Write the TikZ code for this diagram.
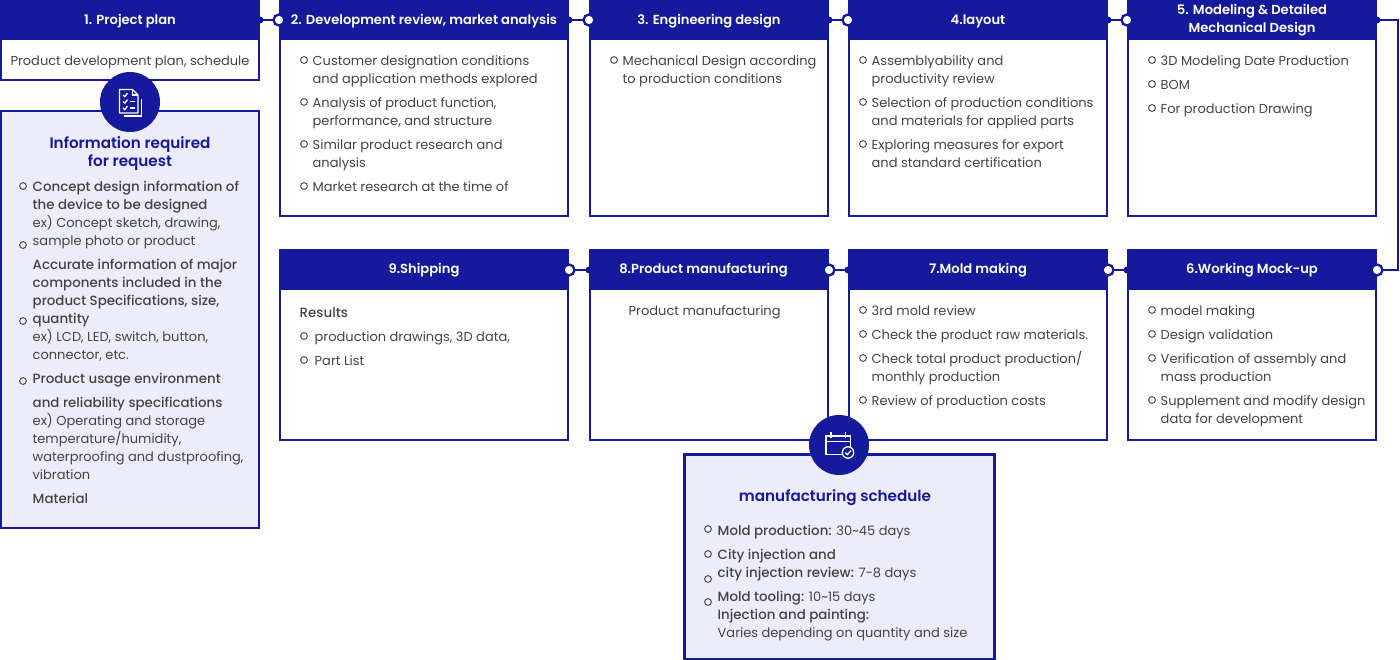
\documentclass[tikz,border=0pt]{standalone}
\usepackage{fontspec}
\setmainfont{Poppins}[BoldFont=Poppins Medium,BoldFeatures={Scale=1.03}]
\newfontface\headfont{Poppins SemiBold}
\definecolor{stepblue}{HTML}{15199C}
\definecolor{panelfill}{HTML}{ECECFB}
\definecolor{itemgray}{HTML}{444444}
\tikzset{
  stephead/.style={fill=stepblue, text=white, anchor=north west, minimum height=40pt, inner sep=0pt, outer sep=0pt, align=center, font=\headfont\fontsize{13.1}{18}\selectfont},
  lowtitle/.style={text height=10pt, text depth=1pt},
  head1/.style=lowtitle, head2/.style=lowtitle, head3/.style=lowtitle, head4/.style=lowtitle,
  stepbody/.style={draw=stepblue, line width=2.3pt, fill=white, anchor=north west, inner sep=0pt, outer sep=0pt},
  infopanel/.style={draw=stepblue, line width=2.3pt, fill=panelfill, anchor=north west, inner sep=0pt, outer sep=0pt},
  itemtext/.style={text=itemgray, anchor=north west, inner sep=0pt, align=left, font=\fontsize{13}{18}\selectfont},
  paneltitle/.style={text=stepblue, inner sep=0pt, align=center, font=\headfont\fontsize{15.2}{18}\selectfont},
  itemdot/.style={draw=itemgray, line width=0.9pt},
  linkline/.style={draw=stepblue, line width=2.3pt},
  linkdot/.style={circle, draw=stepblue, line width=2.3pt, fill=white, minimum size=11pt, inner sep=0pt},
  linktip/.style={circle, fill=stepblue, minimum size=7pt, inner sep=0pt},
  iconbadge/.style={circle, fill=stepblue, minimum size=60pt, inner sep=0pt},
  iconline/.style={draw=white, line width=1.3pt}
}
\newcommand{\firstline}{\rule{0pt}{14pt}}
\begin{document}
\begin{tikzpicture}[x=1pt,y=-1pt]
  \useasboundingbox (0,0) rectangle (1400,660);
  \foreach \name/\px/\py/\boxw/\boxb/\title in {
    1/0/0/260/81/{1. Project plan},
    2/279/0/290/217/{2. Development review, market analysis},
    3/589/0/240/217/{3. Engineering design},
    4/848/0/260/217/{4.layout},
    5/1127/0/250/217/{5. Modeling \& Detailed\\Mechanical Design},
    6/1127/250/250/441/{6.Working Mock-up},
    7/848/250/260/441/{7.Mold making},
    8/589/250/240/441/{8.Product manufacturing\hspace*{11pt}},
    9/279/250/290/441/{9.Shipping}} {
    \node (body\name) [stepbody, minimum width={\boxw*1pt-2.3pt}, minimum height={(\boxb-\py)*1pt-1.2pt}] at (\px+1.15,\py) {};
    \node (head\name) [stephead, head\name/.try, minimum width={\boxw*1pt}] at (\px,\py) {\title};
  }

  % links between the steps
  \foreach \from/\to in {1/2,2/3,3/4,4/5} {
    \draw [linkline] (head\from.east) -- (head\to.west);
    \node (tip\from) [linktip] at (head\from.east) {};
    \node (dot\to) [linkdot] at (head\to.west) {};
  }
  \foreach \from/\to in {6/7,7/8,8/9} {
    \draw [linkline] (head\from.west) -- (head\to.east);
    \node (tip\from) [linktip] at (head\from.west) {};
    \node (dot\to) [linkdot] at (head\to.east) {};
  }
  \coordinate (bendtop) at (1398,20);
  \coordinate (bendlow) at (1398,270);
  \draw [linkline] (head5.east) -- (bendtop) -- (bendlow) -- (head6.east);
  \node (tip5) [linktip] at (head5.east) {};
  \node (dot6) [linkdot] at (head6.east) {};

  % step texts
  \node (text1) [itemtext, anchor=center] at (130,62) {Product development plan, schedule};

  \node (text2a) [itemtext] at (312.5,51) {\firstline Customer designation conditions\\and application methods explored};
  \node (text2b) [itemtext] at (312.5,93) {\firstline Analysis of product function,\\performance, and structure};
  \node (text2c) [itemtext] at (312.5,135) {\firstline Similar product research and\\analysis};
  \node (text2d) [itemtext] at (312.5,177) {\firstline Market research at the time of};

  \node (text3a) [itemtext] at (622.5,51) {\firstline Mechanical Design according\\to production conditions};

  \node (text4a) [itemtext] at (871.5,51) {\firstline Assemblyability and\\productivity review};
  \node (text4b) [itemtext] at (871.5,93) {\firstline Selection of production conditions\\and materials for applied parts};
  \node (text4c) [itemtext] at (871.5,135) {\firstline Exploring measures for export\\and standard certification};

  \node (text5a) [itemtext] at (1160.5,51) {\firstline 3D Modeling Date Production};
  \node (text5b) [itemtext] at (1160.5,75) {\firstline BOM};
  \node (text5c) [itemtext] at (1160.5,99) {\firstline For production Drawing};

  \node (text6a) [itemtext] at (1160.5,301) {\firstline model making};
  \node (text6b) [itemtext] at (1160.5,325) {\firstline Design validation};
  \node (text6c) [itemtext] at (1160.5,349) {\firstline Verification of assembly and\\mass production};
  \node (text6d) [itemtext] at (1160.5,391) {\firstline Supplement and modify design\\data for development};

  \node (text7a) [itemtext] at (871.5,301) {\firstline 3rd mold review};
  \node (text7b) [itemtext] at (871.5,325) {\firstline Check the product raw materials.};
  \node (text7c) [itemtext] at (871.5,349) {\firstline Check total product production/\\monthly production};
  \node (text7d) [itemtext] at (871.5,391) {\firstline Review of production costs};

  \node (text8a) [itemtext] at (628.5,301) {\firstline Product manufacturing};

  \node (text9a) [itemtext] at (299.5,303) {\firstline\textbf{Results}};
  \node (text9b) [itemtext] at (314.5,327) {\firstline production drawings, 3D data,};
  \node (text9c) [itemtext] at (314.5,351) {\firstline Part List};

  % information panel
  \node (infobox) [infopanel, minimum width=257.7pt, minimum height=417pt] at (1.15,111) {};
  \node (infotitle) [paneltitle] at (130,154) {Information required\\for request};
  \node (info1) [itemtext] at (32.5,177) {\firstline\textbf{Concept design information of}\\\textbf{the device to be designed}\\ex) Concept sketch, drawing,\\sample photo or product};
  \node (info2) [itemtext] at (32.5,255) {\firstline\textbf{Accurate information of major}\\\textbf{components included in the}\\\textbf{product Specifications, size,}\\\textbf{quantity}\\ex) LCD, LED, switch, button,\\connector, etc.};
  \node (info3) [itemtext] at (32.5,369) {\firstline\textbf{Product usage environment}};
  \node (info4) [itemtext] at (32.5,393) {\firstline\textbf{and reliability specifications}\\ex) Operating and storage\\temperature/humidity,\\waterproofing and dustproofing,\\vibration};
  \node (info5) [itemtext] at (32.5,489) {\firstline\textbf{Material}};

  % schedule panel
  \node (schedbox) [infopanel, minimum width=310pt, minimum height=204.5pt] at (684.5,454.5) {};
  \node (schedtitle) [paneltitle] at (835,498) {manufacturing schedule};
  \node (sched1) [itemtext] at (717.5,521) {\firstline\textbf{Mold production:} 30\textasciitilde45 days};
  \node (sched2) [itemtext] at (717.5,545) {\firstline\textbf{City injection and}\\\textbf{city injection review:} 7-8 days};
  \node (sched3) [itemtext] at (717.5,587) {\firstline\textbf{Mold tooling:} 10\textasciitilde15 days\\\textbf{Injection and painting:}\\Varies depending on quantity and size};

  % list markers
  \foreach \bx/\by in {304/60,304/102,304/144,304/186,614/60,863/60,863/102,863/144,
    1152/60,1152/84,1152/108,304/336,304/360,863/310,863/334,863/358,863/400,
    1152/310,1152/334,1152/358,1152/400,
    23/186,23/245,23/321,23/381,708/529,708/554,708/579,708/602} {
    \draw [itemdot] (\bx,\by) circle (3.4pt);
  }

  % badges with their icons
  \node (infobadge) [iconbadge] at (130,102) {};
  \draw [iconline, line join=round] (119.5,89.5) -- (132.5,89.5) -- (138,95) -- (138,113) -- (119.5,113) -- cycle;
  \draw [iconline] (132.5,89.5) -- (132.5,95) -- (138,95);
  \draw [iconline] (141.5,99) -- (141.5,116) -- (123.5,116);
  \foreach \cy in {95,101.5,108} {
    \draw [iconline] (123,\cy) -- (124.8,\cy+1.6) -- (127.5,\cy-1.8);
  }
  \draw [iconline] (130,101.5) -- (135,101.5);
  \draw [iconline] (130,108) -- (135,108);

  \node (schedbadge) [iconbadge] at (839,445) {};
  \draw [iconline] (826,436) rectangle (850.5,454.5);
  \draw [iconline] (826,441.5) -- (850.5,441.5);
  \draw [iconline] (831,432) -- (831,438);
  \draw [iconline] (845.5,432) -- (845.5,438);
  \draw [iconline, fill=stepblue] (848,452.5) circle (5.7pt);
  \draw [iconline] (845.3,452.5) -- (847.3,454.6) -- (851,450.6);
\end{tikzpicture}
\end{document}
